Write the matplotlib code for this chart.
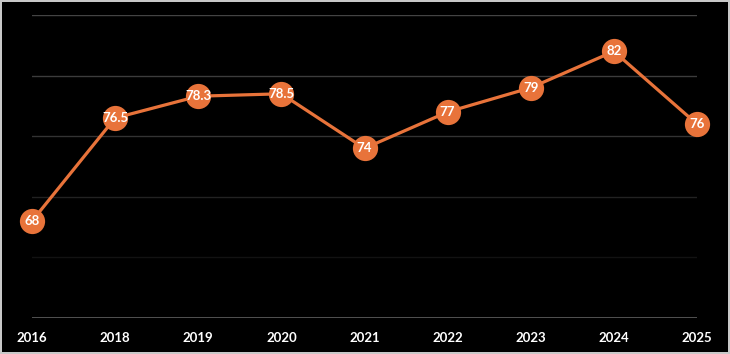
import matplotlib
matplotlib.use('Agg')
import matplotlib.pyplot as plt

years = ['2016', '2018', '2019', '2020', '2021', '2022', '2023', '2024', '2025']
values = [68, 76.5, 78.3, 78.5, 74, 77, 79, 82, 76]
labels = ['68', '76.5', '78.3', '78.5', '74', '77', '79', '82', '76']

orange = '#e8733a'

fig = plt.figure(figsize=(7.3, 3.54), dpi=100)
fig.patch.set_facecolor('black')
fig.patch.set_edgecolor('#c8c8c8')
fig.patch.set_linewidth(1.5)

W, H = 730, 354
ax = fig.add_axes([32 / W, (H - 318) / H, (697 - 32) / W, (318 - 15) / H])
ax.set_facecolor('black')

x = list(range(len(years)))
ax.set_xlim(0, len(years) - 1)
ax.set_ylim(60, 85)

# horizontal grid, fading towards the bottom
grid_colors = {65: '#121212', 70: '#222222', 75: '#333333', 80: '#3c3c3c', 85: '#444444'}
for yv, c in grid_colors.items():
    ax.axhline(yv, color=c, lw=1, zorder=1)
ax.axhline(60, color='#595959', lw=2, zorder=1)

ax.plot(x, values, color=orange, lw=2.3, zorder=2, clip_on=False)
ax.scatter(x, values, s=330, color=orange, zorder=3, clip_on=False, linewidths=0)
for xi, v, t in zip(x, values, labels):
    ax.text(xi, v, t, color='white', fontsize=9.5, fontweight='bold', family='Lato',
            ha='center', va='center', zorder=4)

for s in ax.spines.values():
    s.set_visible(False)
ax.set_yticks([])
ax.set_xticks(x)
ax.set_xticklabels(years, color='white', fontsize=9.5, fontweight='bold', family='Lato')
ax.tick_params(axis='x', length=0, pad=10)

fig.savefig('out.png', dpi=100, facecolor=fig.get_facecolor(), edgecolor=fig.get_edgecolor())
